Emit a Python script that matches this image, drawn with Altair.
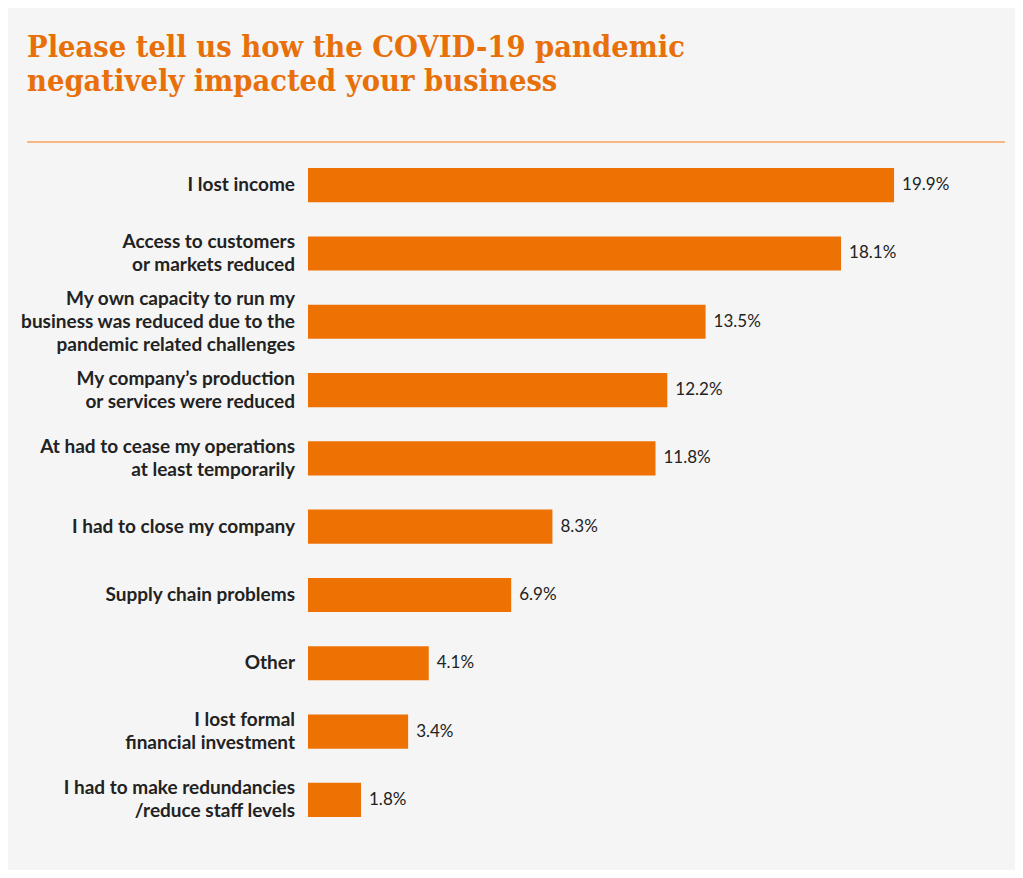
import altair as alt
import pandas as pd

categories = [
    "I lost income",
    "Access to customers or markets reduced",
    "My own capacity to run my business was reduced due to the pandemic related challenges",
    "My company's production or services were reduced",
    "At had to cease my operations at least temporarily",
    "I had to close my company",
    "Supply chain problems",
    "Other",
    "I lost formal financial investment",
    "I had to make redundancies /reduce staff levels",
]
label_lines = [
    ["I lost income"],
    ["Access to customers", "or markets reduced"],
    ["My own capacity to run my", "business was reduced due to the", "pandemic related challenges"],
    ["My company\u2019s production", "or services were reduced"],
    ["At had to cease my operations", "at least temporarily"],
    ["I had to close my company"],
    ["Supply chain problems"],
    ["Other"],
    ["I lost formal", "financial investment"],
    ["I had to make redundancies", "/reduce staff levels"],
]
values = [19.9, 18.1, 13.5, 12.2, 11.8, 8.3, 6.9, 4.1, 3.4, 1.8]

title_lines = ["Please tell us how the COVID-19 pandemic", "negatively impacted your business"]

df = pd.DataFrame({
    "cat": categories,
    "label": label_lines,
    "nlines": [len(l) for l in label_lines],
    "value": values,
    "vlabel": [f"{v:.1f}%" for v in values],
})

ORANGE = "#ee7203"
TEXT = "#222222"
LH = 23

y_enc = alt.Y("cat:N", sort=categories, axis=None,
              scale=alt.Scale(paddingInner=0.5, paddingOuter=0.25))
x_enc = alt.X("value:Q", axis=None, scale=alt.Scale(domain=[0, 20]))

base = alt.Chart(df)

bars = base.mark_bar(color=ORANGE).encode(x=x_enc, y=y_enc)

values_text = base.mark_text(align="left", baseline="middle", dx=8, font="Lato",
                             fontSize=17, color=TEXT).encode(x=x_enc, y=y_enc, text="vlabel:N")

cat_layers = []
for n in (1, 2, 3):
    cat_layers.append(
        base.transform_filter(alt.datum.nlines == n).mark_text(
            align="right", baseline="middle", font="Lato", fontWeight="bold",
            fontSize=19, lineHeight=LH, color=TEXT, dy=-(n - 1) * LH / 2,
        ).encode(x=alt.value(-13), y=y_enc, text="label")
    )

title_df = pd.DataFrame({"t": [title_lines]})
title = alt.Chart(title_df).mark_text(
    align="left", baseline="alphabetic", font="DejaVu Serif Condensed", fontWeight="bold",
    fontSize=30.5, lineHeight=34, color="#e8700a").encode(
    x=alt.value(-281), y=alt.value(-94), text="t")

sep = alt.Chart(title_df).mark_rule(color="#f7a35c", strokeWidth=1.5).encode(
    x=alt.value(-281), x2=alt.value(697), y=alt.value(-9))

chart = alt.layer(bars, values_text, *cat_layers, title, sep).properties(
    width=589, height=683,
    autosize=alt.AutoSizeParams(type="none"),
    padding={"left": 300, "top": 143, "right": 118, "bottom": 36},
    background="#f5f5f5",
).configure_view(stroke=None)

chart.save("out.html", embed_options={"renderer": "svg", "actions": False})
